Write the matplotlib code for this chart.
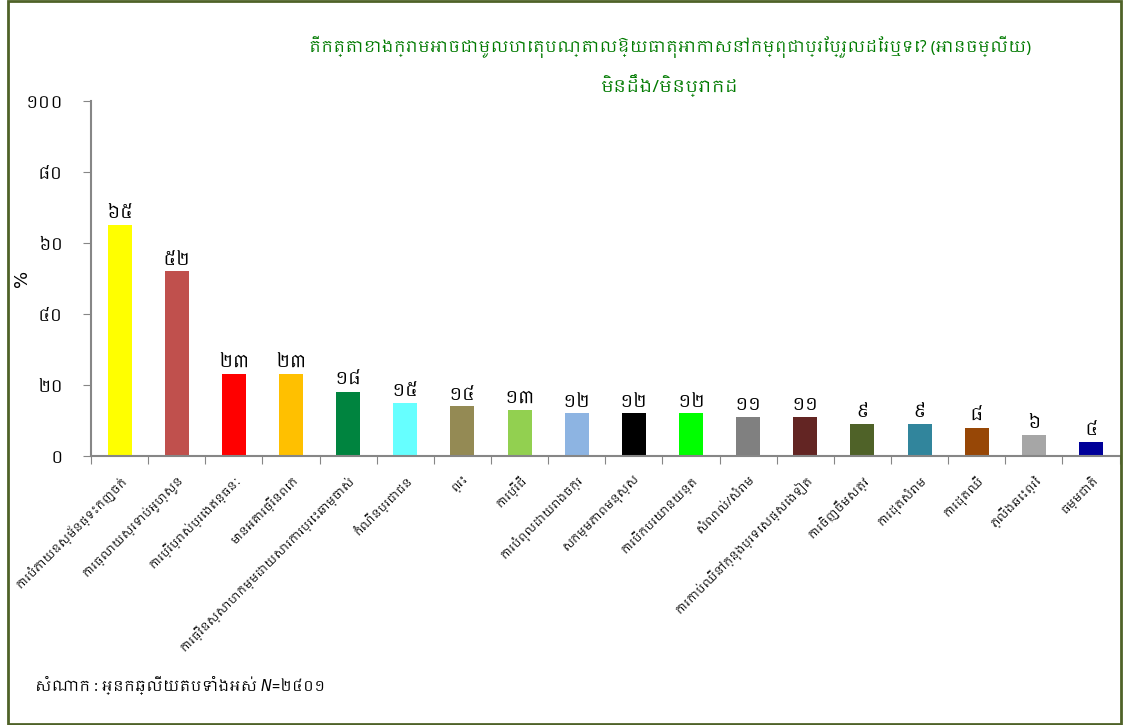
import matplotlib
matplotlib.use("Agg")
import matplotlib.pyplot as plt
from matplotlib import font_manager
from matplotlib.ft2font import FT2Font
from matplotlib.patches import Rectangle

# answers and shares (%)
categories = [
    "ការបំភាយឧស្ម័នផ្ទះកញ្ចក់",
    "ការធ្លាយស្រទាប់អូហ្សូន",
    "ការប្រើប្រាស់ប្រេងឥន្ធនៈ",
    "មានអគារច្រើនពេក",
    "ការធ្វើឧស្សាហកម្មដោយសារការប្រេះឆាម្ចាស់",
    "កំណើនប្រជាជន",
    "ព្រះ",
    "ការប្រើជី",
    "ការបំពុលដោយរោងចក្រ",
    "សកម្មភាពមនុស្ស",
    "ការបើកបរយានយន្ត",
    "សំណល់/សំរាម",
    "ការកាប់ឈើនៅក្នុងប្រទេសផ្សេងទៀត",
    "ការចិញ្ចឹមសត្វ",
    "ការដុតសំរាម",
    "ការដុតឈើ",
    "ភ្លើងឆេះព្រៃ",
    "ធម្មជាតិ",
]
values = [65, 52, 23, 23, 18, 15, 14, 13, 12, 12, 12, 11, 11, 9, 9, 8, 6, 4]
bar_colors = ["#FFFF00", "#C0504D", "#FF0000", "#FFC000", "#00843F", "#66FFFF",
              "#948A54", "#92D050", "#8DB4E2", "#000000", "#00FF00", "#808080",
              "#632523", "#4F6228", "#31859C", "#974706", "#A6A6A6", "#000099"]
yticks = [0, 20, 40, 60, 80, 100]

title_line1 = "តើកត្តាខាងក្រោមអាចជាមូលហេតុបណ្តាលឱ្យធាតុអាកាសនៅកម្ពុជាប្រែប្រួលដែរឬទេ? (អានចម្លើយ)"
title_line2 = "មិនដឹង/មិនប្រាកដ"
note = "សំណាក : អ្នកឆ្លើយតបទាំងអស់ N=២៤០១"

KHMER_DIGITS = "០១២៣៤៥៦៧៨៩"


def khmer_num(n):
    return "".join(KHMER_DIGITS[int(d)] for d in str(n))


def find_khmer_family():
    fonts = sorted(font_manager.fontManager.ttflist,
                   key=lambda f: "khmer" not in f.name.lower())
    for f in fonts:
        try:
            if 0x1780 in FT2Font(f.fname).get_charmap():
                return f.name
        except Exception:
            pass
    return None


kh = find_khmer_family()
families = [kh, "DejaVu Sans"] if kh else ["DejaVu Sans"]
plt.rcParams["font.family"] = families

fig = plt.figure(figsize=(11.24, 7.25), dpi=100)
ax = fig.add_axes([0.081, 0.371, 0.915, 0.490])

x = list(range(len(categories)))
bars = ax.bar(x, values, width=0.42, color=bar_colors)
ax.bar_label(bars, labels=[khmer_num(v) for v in values], padding=2, fontsize=13)

ax.set_xlim(-0.5, len(categories) - 0.5)
ax.set_ylim(0, 100)
ax.set_yticks(yticks)
ax.set_yticklabels([khmer_num(t) for t in yticks], fontsize=12)
ax.set_ylabel("%", fontsize=13, family="DejaVu Sans")
ax.yaxis.set_label_coords(-0.058, 0.5)

# category boundaries carry the tick marks, labels sit at bar centres
ax.set_xticks([i - 0.5 for i in range(len(categories) + 1)])
ax.set_xticklabels([])
ax.set_xticks(x, minor=True)
ax.set_xticklabels(categories, minor=True, rotation=45, ha="right",
                   va="top", rotation_mode="anchor", fontsize=8.2)
ax.tick_params(axis="x", which="minor", length=0, pad=12)
ax.tick_params(axis="x", which="major", length=6, color="#868686")
ax.tick_params(axis="y", length=6, color="#868686", pad=14)

for side in ["top", "right"]:
    ax.spines[side].set_visible(False)
for side in ["left", "bottom"]:
    ax.spines[side].set_color("#868686")
    ax.spines[side].set_linewidth(1.5)

fig.text(0.596, 0.935, title_line1, ha="center", va="center",
         fontsize=11.5, fontweight="bold", color="#007A00")
fig.text(0.596, 0.882, title_line2, ha="center", va="center",
         fontsize=12.5, fontweight="bold", color="#007A00")
fig.text(0.031, 0.055, note, ha="left", va="center", fontsize=10.5,
         style="italic")

fig.patches.append(Rectangle((0.007, 0.002), 0.99, 0.996, transform=fig.transFigure,
                             fill=False, edgecolor="#4F6228", linewidth=2))

fig.savefig("out.png", dpi=100)
